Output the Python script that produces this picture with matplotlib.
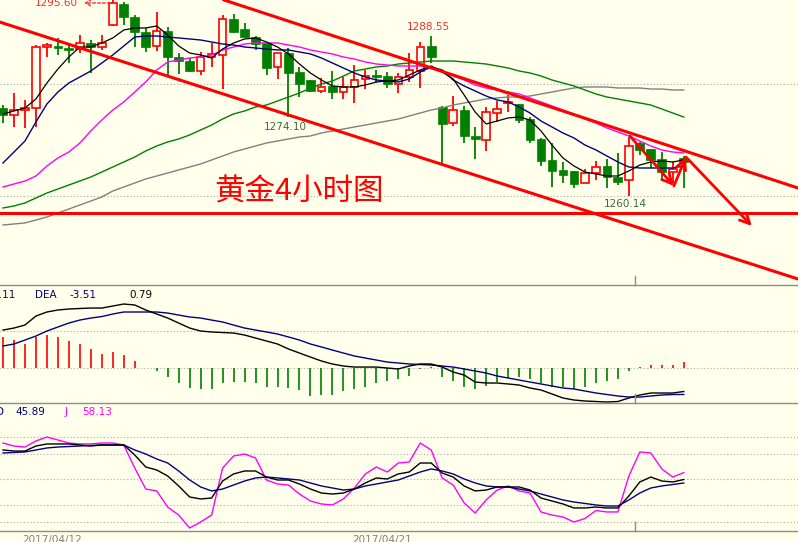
import matplotlib
matplotlib.use('Agg')
import matplotlib.pyplot as plt
from matplotlib.patches import Rectangle
from matplotlib.lines import Line2D

# ---------------- data ----------------
opens = [1275.71,1274.47,1275.36,1275.71,1286.54,1286.72,1286.36,1286.18,1287.25,1286.54,
         1290.44,1294.17,1291.86,1289.20,1286.72,1289.38,1284.76,1284.05,1282.28,1284.76,
         1285.12,1291.51,1289.73,1288.31,1287.25,1282.99,1285.47,1282.10,1280.68,1278.73,
         1279.62,1278.55,1279.44,1280.86,1281.57,1281.39,1279.97,1281.21,1282.28,1286.72,
         1275.89,1273.05,1275.36,1270.74,1270.03,1274.82,1276.60,1276.42,1273.76,1270.21,
         1266.48,1264.71,1264.53,1262.40,1264.17,1265.41,1263.46,1262.93,1269.50,1268.43,
         1266.66,1264.35,1266.83]
highs = [1276.24,1278.37,1277.13,1286.89,1287.25,1288.13,1287.25,1288.67,1287.78,1288.67,
         1295.60,1294.53,1292.22,1289.91,1292.75,1290.09,1285.47,1284.59,1285.65,1287.25,
         1292.22,1292.39,1290.80,1288.49,1287.30,1285.50,1286.36,1282.99,1280.70,1281.04,
         1282.28,1281.21,1283.34,1282.46,1282.46,1282.10,1281.92,1285.47,1287.42,1288.55,
         1276.07,1277.84,1276.07,1272.34,1275.89,1276.95,1278.02,1276.45,1274.11,1270.39,
         1269.50,1266.12,1264.55,1264.88,1266.30,1266.66,1267.72,1270.56,1269.68,1268.45,
         1267.90,1266.12,1267.19]
lows = [1273.05,1272.34,1272.16,1272.34,1284.76,1285.12,1283.70,1285.47,1281.92,1286.01,
        1290.30,1290.44,1286.54,1285.65,1285.83,1281.57,1281.75,1282.10,1281.57,1282.99,
        1279.08,1289.10,1288.20,1286.01,1281.57,1280.86,1274.10,1277.66,1278.55,1278.37,
        1277.31,1277.31,1276.60,1279.08,1280.15,1279.26,1278.37,1280.33,1279.26,1283.70,
        1265.59,1272.52,1269.50,1266.66,1268.08,1273.22,1275.00,1273.05,1269.50,1265.41,
        1261.69,1262.40,1261.51,1262.35,1262.93,1261.51,1262.04,1260.14,1267.37,1265.06,
        1262.93,1262.40,1261.51]
closes = [1274.47,1275.36,1275.71,1286.54,1286.89,1286.36,1286.01,1287.25,1286.54,1287.25,
          1294.35,1291.86,1289.20,1286.54,1289.38,1284.76,1284.05,1282.28,1284.76,1285.30,
          1291.51,1289.20,1288.31,1287.07,1282.81,1285.47,1281.92,1279.97,1278.73,1279.44,
          1278.55,1279.44,1280.68,1281.39,1281.21,1279.97,1281.21,1282.46,1286.54,1284.76,
          1272.87,1275.36,1270.74,1270.21,1275.00,1275.53,1276.78,1273.58,1270.03,1266.30,
          1264.53,1263.82,1262.22,1264.17,1265.24,1263.46,1262.57,1268.97,1268.26,1266.48,
          1264.35,1264.88,1266.12]

ma5 = [1274.65,1275.18,1275.71,1277.31,1280.15,1282.63,1284.76,1286.54,1286.54,1287.25,
       1288.14,1289.56,1289.91,1289.91,1290.27,1288.67,1286.72,1285.47,1285.12,1284.59,
       1286.18,1287.25,1287.96,1288.14,1287.43,1286.54,1285.30,1283.52,1281.92,1280.68,
       1279.62,1279.44,1279.44,1279.79,1280.33,1280.50,1280.68,1281.57,1282.46,1283.17,
       1282.10,1280.86,1278.02,1275.00,1272.87,1273.40,1273.94,1274.11,1273.58,1271.63,
       1269.14,1266.84,1265.42,1264.35,1264.00,1263.64,1263.64,1264.53,1265.59,1266.13,
       1266.30,1266.13,1266.48]
ma10 = [1265.95,1267.90,1269.85,1273.23,1276.42,1278.55,1280.15,1281.21,1282.28,1283.70,
        1285.12,1286.72,1288.31,1288.49,1288.49,1288.31,1288.14,1287.96,1287.78,1287.43,
        1287.07,1286.89,1286.54,1286.36,1286.18,1286.01,1286.01,1285.65,1285.30,1284.59,
        1283.70,1282.81,1281.92,1281.21,1280.68,1280.50,1280.33,1280.86,1282.10,1282.99,
        1282.46,1280.68,1279.62,1278.73,1277.84,1277.13,1276.78,1275.89,1274.82,1273.40,
        1272.34,1271.27,1270.39,1269.14,1268.26,1267.19,1266.13,1265.24,1265.06,1265.06,
        1265.06,1265.06,1265.42]
ma20 = [1261.69,1262.22,1262.75,1263.64,1265.42,1266.84,1267.90,1269.50,1271.63,1273.58,
        1275.36,1276.78,1278.55,1280.33,1282.46,1283.88,1284.23,1284.59,1284.76,1285.12,
        1286.01,1286.54,1287.07,1287.25,1287.25,1287.25,1286.89,1286.54,1286.01,1285.65,
        1285.30,1284.76,1284.41,1283.88,1283.52,1283.34,1283.17,1283.17,1283.17,1282.99,
        1282.28,1281.39,1280.68,1279.79,1279.26,1278.91,1278.55,1278.20,1277.49,1276.78,
        1276.07,1275.36,1274.65,1273.76,1273.05,1272.16,1271.45,1270.74,1269.85,1268.97,
        1268.26,1267.90,1267.72]
ma60 = [1257.96,1258.32,1258.85,1259.74,1260.62,1261.33,1262.04,1262.75,1263.46,1264.35,
        1265.24,1266.13,1267.01,1268.08,1268.97,1269.68,1270.21,1270.92,1271.81,1272.69,
        1273.76,1274.65,1275.18,1275.89,1276.24,1276.95,1277.66,1278.37,1279.26,1279.97,
        1280.50,1281.39,1282.28,1282.63,1282.99,1283.17,1283.52,1283.70,1283.88,1284.05,
        1284.05,1284.05,1283.88,1283.70,1283.52,1283.17,1282.81,1282.28,1281.92,1281.39,
        1280.68,1280.15,1279.62,1278.91,1278.20,1277.66,1277.31,1276.95,1276.60,1276.24,
        1275.53,1274.82,1274.11]
ma120 = [1254.94,1255.12,1255.30,1255.83,1256.36,1257.07,1257.78,1258.49,1259.20,1259.91,
         1260.98,1261.69,1262.40,1263.11,1263.64,1264.17,1264.71,1265.24,1265.77,1266.48,
         1267.19,1267.90,1268.43,1268.97,1269.50,1269.85,1270.21,1270.56,1270.74,1271.27,
         1271.63,1271.98,1272.34,1272.69,1273.05,1273.40,1273.76,1274.29,1274.82,1275.36,
         1275.71,1276.24,1276.60,1276.95,1277.31,1277.49,1277.66,1277.66,1277.84,1278.20,
         1278.55,1278.91,1279.26,1279.44,1279.44,1279.44,1279.26,1279.26,1279.26,1279.08,
         1279.08,1278.91,1278.91]

macd_hist = [4.20,3.79,3.26,4.20,4.46,4.20,3.66,3.26,2.59,1.92,2.19,1.78,0.98,0.10,
             -0.32,-1.17,-1.97,-2.64,-2.77,-2.77,-1.97,-1.84,-1.84,-1.97,-2.51,-2.51,-2.64,
             -2.90,-3.71,-3.58,-3.58,-3.04,-2.77,-2.51,-1.97,-1.70,-1.43,-1.03,-0.10,0.17,
             -1.17,-1.70,-2.51,-2.77,-2.37,-1.84,-1.30,-1.17,-1.43,-1.97,-2.51,-2.51,-2.77,
             -2.51,-1.97,-1.70,-1.43,-0.36,0.24,0.44,0.44,0.44,0.79]
dif = [5.13,5.40,5.80,7.01,7.55,7.82,7.95,8.02,8.08,8.08,8.35,8.62,8.49,7.82,7.28,6.74,
       6.07,5.40,5.00,4.87,4.80,4.73,4.46,4.06,3.66,3.26,2.59,2.05,1.51,0.98,0.58,0.31,
       0.17,0.17,0.17,0.04,-0.09,0.31,0.58,0.58,0.17,-0.50,-0.90,-1.84,-1.97,-1.97,-2.10,
       -2.24,-2.64,-2.91,-3.44,-3.98,-4.25,-4.38,-4.45,-4.52,-4.45,-3.98,-3.58,-3.31,-3.31,
       -3.31,-3.11]
dea = [2.99,3.26,3.79,4.33,5.00,5.54,6.07,6.47,6.74,6.94,7.28,7.55,7.55,7.55,7.55,7.41,
       7.14,6.88,6.74,6.47,6.21,5.80,5.40,5.13,4.87,4.60,4.20,3.79,3.26,2.86,2.45,2.05,
       1.65,1.38,1.11,0.84,0.71,0.58,0.51,0.44,0.31,0.17,-0.09,-0.36,-0.63,-1.03,-1.30,
       -1.57,-1.84,-2.10,-2.37,-2.64,-2.77,-3.04,-3.31,-3.51,-3.71,-3.85,-3.85,-3.71,-3.58,
       -3.51,-3.51]

k_line = [84.7,83.5,83.5,89.4,91.8,91.8,91.8,90.6,89.4,90.6,90.6,90.6,78.8,64.7,61.2,54.1,
          42.4,29.4,27.1,28.2,48.2,56.5,60.0,60.0,52.9,49.4,49.4,44.7,38.8,34.1,32.9,34.1,
          38.8,45.9,51.8,50.6,56.5,58.8,69.4,69.4,57.6,52.9,42.4,36.5,37.6,41.2,41.2,41.2,
          37.6,28.2,24.7,21.2,16.5,16.5,17.6,16.5,16.5,30.6,47.1,52.9,48.2,47.1,49.97]
d_line = [81.2,81.8,82.4,84.7,87.1,88.2,88.8,89.4,90.0,90.6,90.6,90.6,84.7,80.0,74.1,69.4,
          60.0,49.4,41.2,36.5,38.8,43.5,48.2,51.8,52.9,51.8,50.6,49.4,45.9,42.4,40.0,37.6,
          38.8,42.4,44.7,47.1,49.4,54.1,58.8,62.4,60.0,56.5,50.6,45.9,42.4,41.2,41.2,38.8,
          36.5,32.9,29.4,25.9,23.5,21.8,20.0,18.8,18.8,25.9,34.1,40.0,42.4,44.1,45.89]
j_line = [92.9,89.4,88.2,95.3,100.0,96.5,92.9,91.8,91.8,92.9,92.9,90.6,63.5,38.8,36.5,17.6,
          8.2,-7.1,0.0,8.2,63.5,77.6,80.0,75.3,49.4,44.7,43.5,32.9,24.7,21.2,20.0,27.1,
          40.0,56.5,64.7,58.8,69.4,70.6,92.9,84.7,51.8,43.5,22.4,10.6,25.9,37.6,42.4,36.5,
          34.1,11.8,8.2,5.9,0.0,4.1,13.5,11.8,11.8,54.1,82.4,81.2,62.4,52.9,58.13]

date_labels = ['2017/04/12', '2017/04/21']
date_pos = [4.46, 34.5]

# hand-drawn annotations (bar index, price)
upper_channel = [(20.13, 1294.88), (72.4, 1261.51)]
lower_channel = [(-0.3, 1290.97), (72.4, 1245.36)]
support_level = 1257.07
arrow_path = [(57.1, 1270.74), (61.1, 1261.87), (62.2, 1267.01), (68.2, 1254.77)]

# ---------------- figure ----------------
BG = '#FFFFEB'
RED = '#FF0000'
GRN = '#008000'
NAVY = '#000080'
MAG = '#FF00FF'

W, H = 798, 542
fig = plt.figure(figsize=(W / 100, H / 100), dpi=100, facecolor=BG)
plt.rcParams['font.family'] = ['DejaVu Sans']

def axes_px(top, bottom):
    return fig.add_axes([0, 1 - bottom / H, 1, (bottom - top) / H])

ax1 = axes_px(0, 285)
ax2 = axes_px(285, 403)
ax3 = axes_px(403, 531)

x0, step = 3.0, 10.98
xlim = (-x0 / step, (W - x0) / step)
for ax in (ax1, ax2, ax3):
    ax.set_facecolor(BG)
    ax.set_xlim(*xlim)
    ax.set_xticks([])
    ax.set_yticks([])
    for s in ax.spines.values():
        s.set_visible(False)

n = len(closes)
idx = list(range(n))

# ---- main panel ----
ax1.set_ylim(1244.29, 1294.88)
for g in (1260, 1280):
    ax1.axhline(g, color='#aaaaaa', lw=0.8, ls=(0, (1, 2)), zorder=0)

for i in idx:
    o, h, l, c = opens[i], highs[i], lows[i], closes[i]
    if c >= o:
        ax1.vlines(i, l, h, color=RED, lw=1.3, zorder=2)
        ax1.add_patch(Rectangle((i - 0.34, o), 0.68, max(c - o, 0.05),
                                facecolor=BG, edgecolor=RED, lw=1.2, zorder=3))
    else:
        ax1.vlines(i, l, h, color=GRN, lw=1.3, zorder=2)
        ax1.add_patch(Rectangle((i - 0.4, c), 0.8, max(o - c, 0.08),
                                facecolor=GRN, edgecolor=GRN, lw=0.5, zorder=3))

ax1.plot(idx, ma120, color='#808080', lw=1.0, zorder=4)
ax1.plot(idx, ma60, color=GRN, lw=1.0, zorder=4)
ax1.plot(idx, ma20, color=MAG, lw=1.0, zorder=4)
ax1.plot(idx, ma10, color=NAVY, lw=1.0, zorder=4)
ax1.plot(idx, ma5, color='black', lw=0.9, zorder=4)

ax1.plot([p[0] for p in upper_channel], [p[1] for p in upper_channel], color=RED, lw=2.2, zorder=6)
ax1.plot([p[0] for p in lower_channel], [p[1] for p in lower_channel], color=RED, lw=2.2, zorder=6)
ax1.axhline(support_level, color=RED, lw=2.2, zorder=6)
for a, b in zip(arrow_path[:-1], arrow_path[1:]):
    ax1.annotate('', xy=b, xytext=a,
                 arrowprops=dict(arrowstyle='->,head_length=0.7,head_width=0.35',
                                 color=RED, lw=2.0, shrinkA=0, shrinkB=0), zorder=7)

ax1.text(4.9, 1294.35, '1295.60', color='#F03030', fontsize=7.5, ha='center', va='center')
ax1.annotate('', xy=(7.4, 1294.35), xytext=(9.75, 1294.35),
             arrowprops=dict(arrowstyle='->,head_length=0.35,head_width=0.2',
                             color='#F03030', lw=1.0, ls=(0, (2, 1.5)), shrinkA=0, shrinkB=0))
ax1.text(38.7, 1290.09, '1288.55', color='#F03030', fontsize=7.5, ha='center', va='center')
ax1.text(25.7, 1272.34, '1274.10', color='#3A6B45', fontsize=7.5, ha='center', va='center')
ax1.text(56.65, 1258.67, '1260.14', color='#3A6B45', fontsize=7.5, ha='center', va='center')
ax1.text(26.96, 1260.8, '黄金4小时图', color=RED, fontsize=22, ha='center', va='center',
         family=['Noto Sans CJK SC', 'DejaVu Sans'], zorder=8)

# ---- MACD panel ----
ax2.set_ylim(-4.65, 11.17)
for g in (0, 5):
    ax2.axhline(g, color='#aaaaaa', lw=0.8, ls=(0, (1, 2)), zorder=0)
for i in idx:
    v = macd_hist[i]
    ax2.vlines(i, 0, v, color=RED if v > 0 else GRN, lw=1.2, zorder=2)
ax2.plot(idx, dea, color=NAVY, lw=1.0, zorder=3)
ax2.plot(idx, dif, color='black', lw=1.0, zorder=3)
ty = 9.83
ax2.text(1.09, ty, 'DIF  -3.11', color='#101040', fontsize=7.5, ha='right', va='center')
ax2.text(2.9, ty, 'DEA', color=NAVY, fontsize=7.5, ha='left', va='center')
ax2.text(6.1, ty, '-3.51', color=NAVY, fontsize=7.5, ha='left', va='center')
ax2.text(11.5, ty, '0.79', color='black', fontsize=7.5, ha='left', va='center')

# ---- KDJ panel ----
ax3.set_ylim(-10.6, 140.0)
for g in (0, 20, 50, 80, 100):
    ax3.axhline(g, color='#aaaaaa', lw=0.8, ls=(0, (1, 2)), zorder=0)
ax3.plot(idx, j_line, color=MAG, lw=1.0, zorder=3)
ax3.plot(idx, d_line, color=NAVY, lw=1.0, zorder=3)
ax3.plot(idx, k_line, color='black', lw=1.0, zorder=3)
ky = 129.4
ax3.text(-0.64, ky, 'D', color=NAVY, fontsize=7.5, ha='left', va='center')
ax3.text(1.09, ky, '45.89', color=NAVY, fontsize=7.5, ha='left', va='center')
ax3.text(5.65, ky, 'J', color=MAG, fontsize=7.5, ha='left', va='center')
ax3.text(7.2, ky, '58.13', color=MAG, fontsize=7.5, ha='left', va='center')

# panel separators and tick marks
for ypx in (285, 403, 531):
    fig.add_artist(Line2D([0, 1], [1 - ypx / H] * 2, color='#8c8c8c', lw=1.0))
    fig.add_artist(Line2D([635 / W] * 2, [1 - ypx / H, 1 - (ypx - 9) / H], color='#8c8c8c', lw=1.0))

# date labels
for lab, pos in zip(date_labels, date_pos):
    xf = (x0 + pos * step) / W
    fig.text(xf, 1 - 540 / H, lab, color='#808080', fontsize=7.5, ha='center', va='center')

fig.savefig('out.png', dpi=100, facecolor=BG)
